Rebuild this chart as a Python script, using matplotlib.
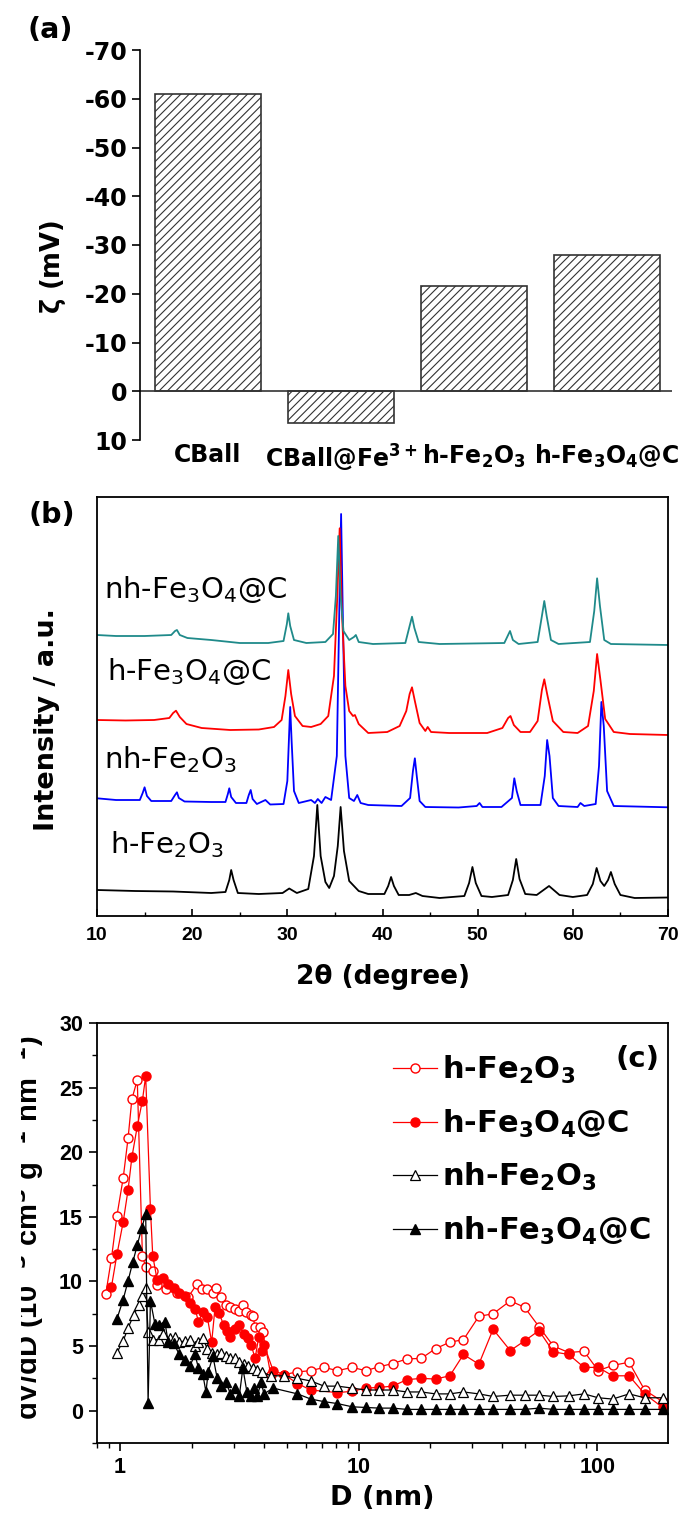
import matplotlib
matplotlib.use("Agg")
import matplotlib.pyplot as plt
from matplotlib.ticker import MultipleLocator, LogLocator, NullFormatter, FuncFormatter
from matplotlib.transforms import Bbox, TransformedBbox

plt.rcParams["font.family"] = ["DejaVu Sans"]
plt.rcParams["mathtext.default"] = "regular"
plt.rcParams["axes.unicode_minus"] = False
plt.rcParams["hatch.linewidth"] = 0.8

ARIAL = ["Liberation Sans", "DejaVu Sans"]

# ---------------------------------------------------------------------------
# (a) zeta potential
# ---------------------------------------------------------------------------
zeta_samples = ["CBall", r"CBall@Fe$^{\mathbf{3+}}$",
                r"h-Fe$_\mathbf{2}$O$_\mathbf{3}$", r"h-Fe$_\mathbf{3}$O$_\mathbf{4}$@C"]
zeta_mv = [-61.0, 6.5, -21.6, -27.9]

# ---------------------------------------------------------------------------
# (b) XRD patterns, (2theta, stacked intensity in a.u.)
# ---------------------------------------------------------------------------
xrd_h_fe2o3 = [
    (10, 26), (14, 25), (18, 24.5), (22, 23), (23.5, 24), (23.9, 36), (24.1, 46), (24.35, 36),
    (24.8, 23), (27, 22), (29.5, 23), (30.2, 27.5), (31, 23), (32.2, 27), (32.8, 60), (33.15, 111),
    (33.5, 60), (34.0, 34), (34.4, 28), (34.9, 40), (35.3, 70), (35.6, 109), (35.95, 65), (36.5, 35),
    (37.5, 25), (38.5, 22), (40.2, 22), (40.6, 30), (40.9, 39), (41.2, 30), (41.7, 21), (42.8, 21),
    (43.5, 23), (44.2, 20), (46, 18), (48.6, 20), (49.1, 33), (49.45, 49), (49.8, 33), (50.4, 20),
    (51.5, 19), (53.2, 21), (53.7, 36), (54.05, 57), (54.4, 37), (55.0, 22), (56.2, 21), (57.5, 30),
    (58.6, 21), (60, 19), (61.5, 21), (62.1, 32), (62.5, 48), (62.9, 35), (63.3, 30), (63.7, 36),
    (64.0, 44), (64.4, 32), (65.0, 21), (66.5, 18), (70, 18.5),
]
xrd_nh_fe2o3 = [
    (10, 117.7), (12, 116), (14.5, 116), (14.8, 123), (15.0, 128.7), (15.25, 120), (15.7, 115),
    (17.8, 115), (18.2, 121), (18.4, 123.7), (18.6, 118), (19.2, 114.5), (22, 114), (23.5, 114),
    (23.75, 122), (23.9, 127.7), (24.1, 119), (24.6, 113), (25.7, 113), (25.95, 121), (26.15, 126),
    (26.35, 117), (26.8, 112), (27.7, 116), (28.2, 111.5), (29.6, 112), (30.0, 135), (30.2, 185),
    (30.3, 209), (30.45, 175), (30.7, 125), (31.2, 113), (32.5, 116), (32.9, 113), (33.2, 117),
    (33.6, 113), (34.0, 119), (34.6, 116), (35.2, 160), (35.45, 300), (35.65, 402), (35.85, 290),
    (36.1, 160), (36.5, 118), (37.0, 115), (37.35, 121), (37.7, 113), (38.5, 111), (42, 110),
    (42.9, 118), (43.2, 145), (43.4, 157.7), (43.6, 140), (43.9, 115), (44.5, 109), (48, 108.5),
    (49.9, 110), (50.2, 113), (50.5, 109), (52.5, 109), (53.6, 118), (53.85, 137.7), (54.1, 125),
    (54.5, 111), (56.6, 111), (57.05, 140), (57.3, 176), (57.55, 160), (57.9, 118), (58.5, 110),
    (60.5, 109), (60.8, 113), (61.2, 110), (62.4, 112), (62.75, 150), (63.0, 214), (63.25, 190),
    (63.6, 125), (64.3, 110), (70, 108.7),
]
xrd_h_fe3o4c = [
    (10, 196), (13, 195.5), (16, 196), (17.6, 198), (18.0, 203), (18.3, 205.3), (18.7, 199),
    (19.4, 192), (21, 188), (24, 186), (27, 186.5), (28.6, 189), (29.4, 196), (29.8, 220),
    (30.1, 246), (30.4, 222), (30.8, 200), (31.6, 190), (32.5, 189), (33.5, 192), (34.3, 200),
    (34.9, 240), (35.25, 320), (35.5, 387.7), (35.75, 300), (36.1, 230), (36.5, 205), (36.9, 200),
    (37.1, 201), (37.5, 192), (38.5, 183), (40.5, 184), (41.8, 190), (42.5, 205), (42.85, 222),
    (43.1, 228.7), (43.4, 215), (43.9, 193), (44.5, 185), (44.75, 189), (45.1, 184), (47, 183),
    (51, 183), (52.6, 188), (53.2, 198), (53.45, 200), (53.8, 191), (54.5, 184), (55.5, 184),
    (56.3, 195), (56.75, 226), (57.0, 236.7), (57.3, 222), (57.9, 195), (59, 184), (60.5, 183),
    (61.6, 190), (62.2, 225), (62.55, 262), (62.9, 236), (63.4, 197), (64.3, 184), (66, 182),
    (70, 181),
]
xrd_nh_fe3o4c = [
    (10, 281), (12, 280), (15, 280), (17.8, 281), (18.2, 285), (18.4, 286), (18.7, 281),
    (19.5, 278), (22, 276), (25, 273), (28, 273), (29.6, 275), (29.95, 292), (30.1, 302.7),
    (30.3, 290), (30.7, 276), (32, 273), (34, 274), (34.8, 282), (35.1, 320), (35.35, 380),
    (35.6, 320), (35.9, 285), (36.5, 276), (37.0, 279), (37.2, 281), (37.5, 274), (39, 272),
    (42.4, 273), (42.85, 290), (43.1, 299.3), (43.35, 288), (43.8, 274), (46, 272), (52.8, 273),
    (53.2, 281), (53.4, 285), (53.7, 276), (54.3, 272), (56.3, 274), (56.75, 300), (57.0, 315),
    (57.25, 300), (57.7, 276), (58.5, 272), (61.8, 274), (62.25, 305), (62.55, 337.7),
    (62.85, 310), (63.3, 276), (64, 272), (70, 271),
]

# ---------------------------------------------------------------------------
# (c) pore size distributions
# ---------------------------------------------------------------------------
d_h_fe2o3 = [0.87, 0.92, 0.97, 1.03, 1.08, 1.12, 1.18, 1.24, 1.28, 1.37, 1.43, 1.56, 1.73, 1.93,
             2.10, 2.20, 2.32, 2.45, 2.53, 2.66, 2.78, 2.90, 3.03, 3.16, 3.27, 3.38, 3.53, 3.60,
             3.68, 3.84, 3.96, 4.28, 4.87, 5.54, 6.30, 7.16, 8.15, 9.40, 10.7, 12.2, 13.9, 15.9,
             18.3, 21.0, 24.1, 27.5, 31.9, 36.6, 43.2, 49.6, 57.0, 65.5, 76.0, 88.0, 101, 116,
             136, 158, 188]
v_h_fe2o3 = [9.0, 11.8, 15.1, 18.0, 21.1, 24.1, 25.6, 12.0, 11.1, 10.8, 9.7, 9.4, 9.1, 8.8,
             9.8, 9.4, 9.4, 9.1, 9.5, 8.8, 8.2, 8.0, 7.9, 7.7, 8.2, 7.6, 7.4, 7.3,
             6.5, 6.5, 6.1, 2.8, 2.8, 3.0, 3.1, 3.35, 3.1, 3.35, 3.1, 3.4, 3.65, 4.0,
             4.05, 4.8, 5.3, 5.5, 7.3, 7.5, 8.5, 8.0, 6.5, 5.0, 4.5, 4.6, 3.1, 3.5,
             3.75, 1.6, 0.7]

d_h_fe3o4c = [0.92, 0.97, 1.03, 1.08, 1.12, 1.18, 1.24, 1.28, 1.34, 1.37, 1.43, 1.51, 1.59, 1.68,
              1.77, 1.87, 1.97, 2.06, 2.13, 2.22, 2.32, 2.42, 2.50, 2.60, 2.72, 2.81, 2.90, 3.03,
              3.16, 3.30, 3.42, 3.54, 3.68, 3.81, 3.92, 4.01, 4.38, 4.87, 5.54, 6.30, 8.15, 9.40,
              10.7, 12.2, 13.9, 15.9, 18.3, 21.0, 24.1, 27.5, 31.9, 36.6, 43.2, 49.6, 57.0, 65.5,
              76.0, 88.0, 101, 116, 136, 158, 188]
v_h_fe3o4c = [9.6, 12.1, 14.6, 17.1, 19.6, 22.0, 24.0, 25.9, 15.6, 12.0, 10.1, 10.3, 9.8, 9.5,
              9.1, 8.9, 8.3, 7.9, 6.9, 7.6, 7.25, 5.3, 8.0, 7.55, 6.6, 6.2, 5.7, 6.3,
              6.6, 5.9, 5.6, 5.1, 4.05, 5.7, 4.65, 5.1, 3.1, 2.8, 2.1, 1.6, 1.4, 1.5,
              1.75, 1.8, 1.9, 2.4, 2.5, 2.45, 2.7, 4.35, 3.6, 6.3, 4.65, 5.4, 6.2, 4.55,
              4.35, 3.35, 3.35, 2.7, 2.7, 1.3, 0.25]

d_nh_fe2o3 = [0.97, 1.03, 1.08, 1.14, 1.20, 1.24, 1.28, 1.31, 1.37, 1.45, 1.52, 1.62, 1.70, 1.77,
              1.87, 1.96, 2.06, 2.13, 2.22, 2.32, 2.42, 2.55, 2.66, 2.78, 2.90, 3.03, 3.16, 3.30,
              3.45, 3.60, 3.76, 3.93, 4.28, 4.87, 5.54, 6.30, 7.16, 8.15, 9.40, 10.7, 12.2, 13.9,
              15.9, 18.3, 21.0, 24.1, 27.5, 31.9, 36.6, 43.2, 49.6, 57.0, 65.5, 76.0, 88.0, 101,
              116, 136, 158, 188]
v_nh_fe2o3 = [4.5, 5.4, 6.4, 7.4, 8.2, 8.9, 9.5, 6.1, 5.5, 5.5, 5.9, 5.6, 5.7, 5.3,
              5.4, 5.5, 5.0, 5.3, 5.6, 4.8, 4.5, 4.35, 4.5, 4.2, 4.05, 4.05, 3.75, 3.6,
              3.45, 3.3, 3.15, 3.0, 2.7, 2.7, 2.5, 2.3, 1.9, 1.9, 1.75, 1.6, 1.6, 1.6,
              1.45, 1.45, 1.3, 1.3, 1.45, 1.3, 1.1, 1.2, 1.2, 1.2, 1.1, 1.15, 1.3, 1.0,
              0.9, 1.3, 1.0, 1.0]

d_nh_fe3o4c = [0.97, 1.03, 1.08, 1.13, 1.18, 1.23, 1.28, 1.31, 1.34, 1.40, 1.45, 1.54, 1.59, 1.68,
               1.77, 1.87, 1.96, 2.06, 2.13, 2.22, 2.29, 2.34, 2.45, 2.55, 2.66, 2.78, 2.90, 3.03,
               3.16, 3.27, 3.40, 3.53, 3.63, 3.76, 3.90, 4.01, 4.38, 5.54, 6.30, 7.16, 8.15, 9.40,
               10.7, 12.2, 13.9, 15.9, 18.3, 21.0, 24.1, 27.5, 31.9, 36.6, 43.2, 49.6, 57.0, 65.5,
               76.0, 88.0, 101, 116, 136, 158, 188]
v_nh_fe3o4c = [7.1, 8.6, 10.05, 11.5, 12.8, 14.1, 15.2, 0.6, 8.5, 6.7, 6.6, 6.9, 5.3, 5.2,
               4.35, 3.95, 3.45, 4.35, 3.3, 2.85, 1.45, 3.0, 4.2, 2.55, 1.9, 2.2, 1.3, 1.75,
               1.15, 3.3, 1.45, 1.1, 1.75, 1.15, 2.2, 1.3, 1.75, 1.3, 0.9, 0.7, 0.55, 0.3,
               0.25, 0.2, 0.2, 0.1, 0.1, 0.1, 0.1, 0.1, 0.1, 0.1, 0.1, 0.1, 0.2, 0.1,
               0.1, 0.1, 0.1, 0.1, 0.1, 0.1, 0.1]

W, H = 697, 1517


def px_rect(left, top, right, bottom):
    """Axes rectangle from pixel edges (origin top-left)."""
    return [left / W, 1 - bottom / H, (right - left) / W, (bottom - top) / H]


def fig_xy(x, y):
    return x / W, 1 - y / H


fig = plt.figure(figsize=(W / 100, H / 100), dpi=100)

# ── (a) ────────────────────────────────────────────────────────────────────
ax_a = fig.add_axes(px_rect(140, 50, 672, 440))
xpos = list(range(len(zeta_mv)))
ax_a.bar(xpos, zeta_mv, width=0.8, color="white", edgecolor="#333333",
         linewidth=1.2, hatch="////")
ax_a.axhline(0, color="#333333", lw=1.2)
ax_a.set_xlim(-0.51, 3.49)
ax_a.set_ylim(10, -70)
ax_a.yaxis.set_major_locator(MultipleLocator(10))
for s in ("top", "right", "bottom"):
    ax_a.spines[s].set_visible(False)
ax_a.spines["left"].set_linewidth(1.2)
ax_a.tick_params(axis="y", direction="out", length=6, width=1.2, pad=3, labelsize=17)
ax_a.set_xticks(xpos)
ax_a.set_xticklabels(zeta_samples, fontsize=17, fontweight="bold")
ax_a.tick_params(axis="x", length=0, pad=2)
for lab in ax_a.get_yticklabels():
    lab.set_fontweight("bold")
fig.text(*fig_xy(53, 267), r"$\zeta$ (mV)", rotation=90, ha="center", va="center",
         fontsize=18.5, fontweight="bold")
fig.text(*fig_xy(50, 30), "(a)", ha="center", va="center", fontsize=20.5, fontweight="bold")

# ── (b) ────────────────────────────────────────────────────────────────────
ax_b = fig.add_axes(px_rect(97, 497, 668, 916))
xrd_sets = [
    (xrd_h_fe2o3, "black", r"h-Fe$_2$O$_3$", 11.4, 63),
    (xrd_nh_fe2o3, "#0000ff", r"nh-Fe$_2$O$_3$", 10.7, 148),
    (xrd_h_fe3o4c, "#ff0000", r"h-Fe$_3$O$_4$@C", 11.0, 236),
    (xrd_nh_fe3o4c, "#1f8a8a", r"nh-Fe$_3$O$_4$@C", 10.7, 318),
]
for pts, col, name, tx, ty in xrd_sets:
    ax_b.plot([p[0] for p in pts], [p[1] for p in pts], color=col, lw=1.3)
    ax_b.text(tx, ty, name, fontsize=21, va="baseline", ha="left")
ax_b.set_xlim(10, 70)
ax_b.set_ylim(0, 419)
ax_b.set_yticks([])
ax_b.xaxis.set_major_locator(MultipleLocator(10))
ax_b.xaxis.set_minor_locator(MultipleLocator(5))
ax_b.tick_params(axis="x", which="major", direction="in", length=5, width=1.2, pad=8)
ax_b.tick_params(axis="x", which="minor", direction="in", length=3, width=1.0)
for lab in ax_b.get_xticklabels():
    lab.set_fontweight("bold")
    lab.set_fontfamily(ARIAL)
    lab.set_fontsize(14)
for s in ax_b.spines.values():
    s.set_linewidth(1.3)
fig.text(*fig_xy(383, 977), "2θ (degree)", ha="center", va="center",
         fontsize=19, fontweight="bold")
fig.text(*fig_xy(47, 720), "Intensity / a.u.", rotation=90, ha="center", va="center",
         fontsize=19.5, fontweight="bold")
fig.text(*fig_xy(52, 515), "(b)", ha="center", va="center", fontsize=20.5, fontweight="bold")

# ── (c) ────────────────────────────────────────────────────────────────────
ax_c = fig.add_axes(px_rect(97, 1023, 668, 1443))
ax_c.plot(d_h_fe2o3, v_h_fe2o3, "-o", color="#ff0000", lw=0.9, ms=6.5, mfc="white",
          mec="#ff0000", mew=1.0, label=r"h-Fe$_\mathbf{2}$O$_\mathbf{3}$")
ax_c.plot(d_h_fe3o4c, v_h_fe3o4c, "-o", color="#ff0000", lw=0.9, ms=6.5, mfc="#ff0000",
          mec="#ff0000", label=r"h-Fe$_\mathbf{3}$O$_\mathbf{4}$@C")
ax_c.plot(d_nh_fe2o3, v_nh_fe2o3, "-^", color="black", lw=0.9, ms=7, mfc="white",
          mec="black", mew=0.9, label=r"nh-Fe$_\mathbf{2}$O$_\mathbf{3}$")
ax_c.plot(d_nh_fe3o4c, v_nh_fe3o4c, "-^", color="black", lw=0.9, ms=7, mfc="black",
          mec="black", label=r"nh-Fe$_\mathbf{3}$O$_\mathbf{4}$@C")
ax_c.set_xscale("log")
ax_c.set_xlim(0.8, 198)
ax_c.set_ylim(-2.5, 30)
ax_c.yaxis.set_major_locator(MultipleLocator(5))
ax_c.yaxis.set_minor_locator(MultipleLocator(2.5))
ax_c.xaxis.set_major_locator(LogLocator(base=10))
ax_c.xaxis.set_minor_locator(LogLocator(base=10, subs=range(2, 10)))
ax_c.xaxis.set_major_formatter(FuncFormatter(lambda v, _: f"{v:g}"))
ax_c.xaxis.set_minor_formatter(NullFormatter())
ax_c.tick_params(which="major", direction="out", length=6, width=1.2, pad=4)
ax_c.tick_params(which="minor", direction="out", length=3.5, width=1.0)
for lab in ax_c.get_xticklabels() + ax_c.get_yticklabels():
    lab.set_fontweight("bold")
    lab.set_fontfamily(ARIAL)
    lab.set_fontsize(15.5)
for s in ax_c.spines.values():
    s.set_linewidth(1.3)
leg = ax_c.legend(loc="upper left", bbox_to_anchor=(0.497, 0.955), frameon=False,
                  prop={"size": 22, "weight": "bold"}, handlelength=1.45,
                  handletextpad=0.15, labelspacing=0.7, borderaxespad=0)
fig.text(*fig_xy(638, 1059), "(c)", ha="center", va="center", fontsize=21, fontweight="bold")
fig.text(*fig_xy(382, 1498), "D (nm)", ha="center", va="center",
         fontsize=19.5, fontweight="bold")

# y label of (c) runs off the left edge; only its lower part shows
ylab_c = fig.text(*fig_xy(38, 1228),
                  r"dV/dD (10$^{\mathbf{-3}}$ cm$^{\mathbf{3}}$ g$^{\mathbf{-1}}$ nm$^{\mathbf{-1}}$)",
                  rotation=90, rotation_mode="anchor", ha="center", va="baseline",
                  fontsize=21, fontweight="bold", family=ARIAL)
ylab_c.set_clip_box(TransformedBbox(Bbox.from_extents(21 / W, 0, 1, 1), fig.transFigure))
ylab_c.set_clip_on(True)

fig.savefig("out.png", dpi=100)
